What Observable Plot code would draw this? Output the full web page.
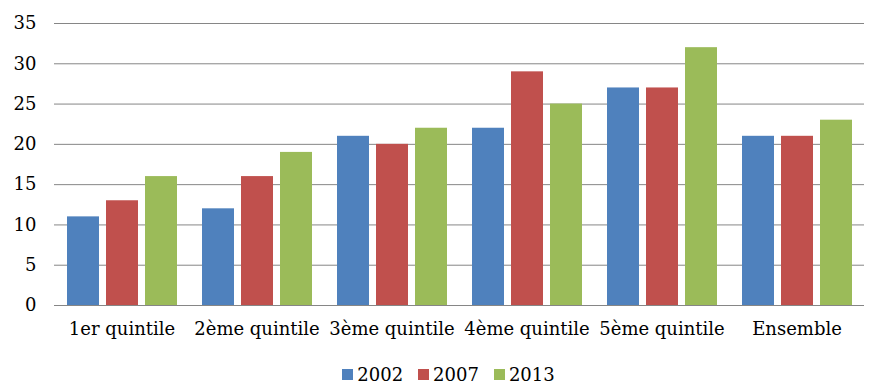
<!DOCTYPE html>
<html><head><meta charset="utf-8">
<script src="https://cdn.jsdelivr.net/npm/d3@7"></script>
<script src="https://cdn.jsdelivr.net/npm/@observablehq/plot@0.6"></script>
<style>
body{margin:0;background:#fff;font-family:"DejaVu Serif",serif;}
#legend{display:flex;justify-content:center;gap:15px;font-size:18px;color:#000;margin-top:12px;padding-left:10px}
#legend span{display:inline-flex;align-items:center}
#legend i{display:inline-block;width:11px;height:11px;margin-right:4px}
</style></head><body>
<div id="chart"></div>
<div id="legend"></div>
<script>
const categories = ["1er quintile","2ème quintile","3ème quintile","4ème quintile","5ème quintile","Ensemble"];
const years = ["2002","2007","2013"];
const colors = ["#4F81BD","#C0504D","#9BBB59"];
const v2002 = [11,12,21,22,27,21];
const v2007 = [13,16,20,29,27,21];
const v2013 = [16,19,22,25,32,23];
const yTicks = [0,5,10,15,20,25,30,35];

const series = [v2002, v2007, v2013];
const data = [];
categories.forEach((c,i)=>years.forEach((y,j)=>data.push({cat:c, year:y, value:series[j][i]})));

const FONT = '"DejaVu Serif",serif';
const chart = Plot.plot({
  width: 887, height: 352,
  marginLeft: 53, marginRight: 23, marginTop: 23, marginBottom: 47,
  style: {fontFamily: FONT, fontSize: "18px", color: "#000", background: "#fff"},
  fx: {domain: categories, paddingInner: 0, paddingOuter: 0, label: null, tickSize: 0, tickPadding: 17},
  x: {domain: years, axis: null, paddingInner: 0.19, paddingOuter: 0.3},
  y: {domain: [0,35], ticks: yTicks, label: null, tickSize: 0, tickPadding: 18},
  color: {domain: years, range: colors},
  marks: [
    Plot.ruleY(yTicks, {stroke: "#868686", strokeWidth: 1}),
    Plot.barY(data, {fx: "cat", x: "year", y: "value", fill: "year"})
  ]
});
document.getElementById("chart").appendChild(chart);
const lg = document.getElementById("legend");
years.forEach((y,i)=>{
  const s=document.createElement("span");
  s.innerHTML=`<i style="background:${colors[i]}"></i>${y}`;
  lg.appendChild(s);
});
</script>
</body></html>
